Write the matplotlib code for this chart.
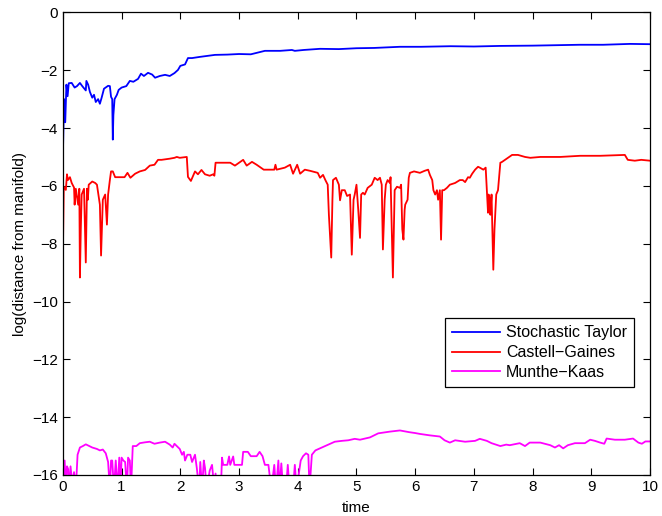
import matplotlib
matplotlib.use('Agg')
import matplotlib.pyplot as plt

plt.rcParams['font.family'] = ['Liberation Sans', 'DejaVu Sans']

# Stochastic Taylor
st_t = [0, 0.02, 0.04, 0.06, 0.08, 0.1, 0.15, 0.2, 0.24, 0.29, 0.33, 0.39, 0.4, 0.43, 0.46,
        0.5, 0.53, 0.56, 0.6, 0.63, 0.66, 0.7, 0.77, 0.8, 0.82, 0.84, 0.85, 0.86, 0.88, 0.92,
        0.95, 1.0, 1.08, 1.14, 1.2, 1.28, 1.33, 1.38, 1.45, 1.52, 1.57, 1.65, 1.74, 1.82, 1.9,
        1.96, 2.0, 2.08, 2.13, 2.2, 2.33, 2.59, 2.8, 3.0, 3.2, 3.44, 3.7, 3.9, 3.95, 4.1, 4.38,
        4.7, 5.0, 5.3, 5.74, 6.1, 6.6, 7.0, 7.44, 8.0, 8.8, 9.2, 9.66, 10.0]
st_y = [-4.92, -3.0, -3.8, -2.5, -2.9, -2.45, -2.44, -2.6, -2.55, -2.44, -2.55, -2.7, -2.37,
        -2.5, -2.75, -2.95, -2.85, -3.1, -3.0, -3.16, -2.95, -2.64, -2.54, -2.55, -2.92, -3.0,
        -4.4, -3.55, -3.0, -2.85, -2.68, -2.6, -2.55, -2.37, -2.4, -2.3, -2.12, -2.2, -2.09,
        -2.15, -2.26, -2.2, -2.16, -2.2, -2.1, -1.99, -1.85, -1.8, -1.58, -1.58, -1.54, -1.47,
        -1.46, -1.44, -1.45, -1.33, -1.33, -1.30, -1.33, -1.3, -1.26, -1.27, -1.24, -1.23,
        -1.19, -1.19, -1.17, -1.18, -1.16, -1.15, -1.12, -1.12, -1.09, -1.1]

# Castell-Gaines
cg_t = [0, 0.015, 0.05, 0.07, 0.085, 0.12, 0.15, 0.19, 0.2, 0.22, 0.26, 0.28, 0.29, 0.305,
        0.32, 0.36, 0.39, 0.41, 0.425, 0.44, 0.5, 0.55, 0.58, 0.63, 0.65, 0.67, 0.68, 0.72,
        0.75, 0.77, 0.8, 0.82, 0.85, 0.89, 0.97, 1.05, 1.1, 1.15, 1.23, 1.31, 1.4, 1.48, 1.56,
        1.62, 1.68, 1.82, 1.9, 1.94, 1.99, 2.11, 2.13, 2.18, 2.25, 2.3, 2.36, 2.42, 2.5, 2.56,
        2.58, 2.6, 2.75, 2.85, 2.93, 3.07, 3.13, 3.22, 3.3, 3.42, 3.52, 3.6, 3.62, 3.64, 3.78,
        3.87, 3.92, 3.99, 4.04, 4.12, 4.21, 4.34, 4.38, 4.43, 4.47, 4.51, 4.53, 4.57, 4.59,
        4.6, 4.65, 4.7, 4.72, 4.75, 4.8, 4.84, 4.89, 4.92, 4.95, 4.97, 5.0, 5.03, 5.06, 5.08,
        5.11, 5.14, 5.19, 5.26, 5.31, 5.36, 5.4, 5.43, 5.45, 5.48, 5.5, 5.53, 5.57, 5.58, 5.62,
        5.65, 5.69, 5.74, 5.76, 5.78, 5.8, 5.82, 5.83, 5.87, 5.89, 5.91, 5.98, 6.08, 6.16,
        6.22, 6.25, 6.29, 6.31, 6.34, 6.37, 6.39, 6.42, 6.44, 6.46, 6.49, 6.54, 6.59, 6.68,
        6.76, 6.81, 6.85, 6.9, 6.93, 6.97, 7.02, 7.07, 7.1, 7.16, 7.2, 7.22, 7.24, 7.25, 7.27,
        7.28, 7.3, 7.33, 7.35, 7.38, 7.41, 7.45, 7.48, 7.53, 7.58, 7.65, 7.75, 7.87, 7.96,
        8.13, 8.47, 8.81, 9.15, 9.57, 9.62, 9.74, 9.85, 10.0]
cg_y = [-8.32, -6.03, -6.14, -5.6, -5.8, -5.7, -5.9, -6.06, -6.65, -6.1, -6.65, -6.1, -9.17,
        -7.5, -6.3, -6.1, -8.65, -6.1, -6.48, -5.96, -5.85, -5.9, -5.96, -6.65, -8.41, -7.1,
        -6.48, -6.3, -7.34, -6.3, -5.8, -5.5, -5.5, -5.7, -5.7, -5.7, -5.55, -5.72, -5.58,
        -5.5, -5.45, -5.3, -5.27, -5.1, -5.1, -5.06, -5.03, -5.0, -5.03, -5.0, -5.69, -5.83,
        -5.5, -5.6, -5.45, -5.6, -5.65, -5.6, -5.65, -5.2, -5.2, -5.2, -5.3, -5.1, -5.3,
        -5.17, -5.27, -5.44, -5.44, -5.44, -5.27, -5.44, -5.37, -5.27, -5.58, -5.27, -5.58,
        -5.44, -5.48, -5.55, -5.72, -5.62, -5.8, -5.96, -7.0, -8.48, -6.5, -5.8, -5.72, -5.96,
        -6.5, -6.15, -6.15, -6.35, -6.3, -8.38, -6.48, -6.3, -5.96, -6.83, -7.8, -6.3, -6.24,
        -6.3, -6.07, -5.96, -5.72, -5.8, -5.72, -5.96, -8.2, -6.48, -5.96, -5.8, -5.9, -5.7,
        -9.17, -6.15, -6.03, -6.07, -5.96, -7.5, -7.86, -6.83, -6.65, -6.48, -5.72, -5.55,
        -5.5, -5.55, -5.48, -5.44, -5.62, -5.8, -6.15, -6.3, -6.15, -6.48, -6.15, -7.86,
        -6.15, -6.15, -6.07, -5.96, -5.9, -5.8, -5.8, -5.87, -5.7, -5.72, -5.58, -5.44, -5.34,
        -5.37, -5.44, -5.37, -6.17, -6.93, -6.3, -6.48, -7.0, -6.3, -8.9, -7.5, -6.3, -6.15,
        -5.2, -5.17, -5.1, -5.03, -4.93, -4.93, -5.0, -5.03, -5.0, -5.0, -4.96, -4.96, -4.93,
        -5.1, -5.13, -5.1, -5.13]

# Munthe-Kaas
mk_t = [0, 0.01, 0.03, 0.05, 0.07, 0.09, 0.11, 0.13, 0.16, 0.19, 0.22, 0.25, 0.29, 0.34,
        0.39, 0.45, 0.5, 0.58, 0.63, 0.68, 0.73, 0.77, 0.8, 0.82, 0.84, 0.87, 0.9, 0.93, 0.96,
        0.98, 1.0, 1.03, 1.06, 1.09, 1.11, 1.14, 1.16, 1.19, 1.25, 1.31, 1.4, 1.48, 1.56,
        1.65, 1.74, 1.82, 1.87, 1.9, 1.95, 1.99, 2.03, 2.06, 2.08, 2.12, 2.17, 2.2, 2.25,
        2.28, 2.32, 2.34, 2.37, 2.4, 2.42, 2.45, 2.5, 2.54, 2.58, 2.6, 2.62, 2.69, 2.71, 2.73,
        2.8, 2.83, 2.85, 2.9, 2.92, 3.05, 3.07, 3.15, 3.2, 3.3, 3.35, 3.4, 3.44, 3.5, 3.55,
        3.6, 3.63, 3.67, 3.69, 3.72, 3.75, 3.8, 3.83, 3.86, 3.92, 3.95, 3.98, 4.05, 4.09,
        4.14, 4.18, 4.2, 4.24, 4.3, 4.41, 4.52, 4.63, 4.75, 4.86, 4.97, 5.06, 5.23, 5.37,
        5.57, 5.74, 5.9, 6.0, 6.08, 6.25, 6.42, 6.5, 6.59, 6.68, 6.85, 7.02, 7.1, 7.22, 7.3,
        7.45, 7.55, 7.61, 7.78, 7.87, 7.95, 8.13, 8.3, 8.38, 8.45, 8.52, 8.6, 8.72, 8.89,
        8.98, 9.06, 9.15, 9.22, 9.26, 9.4, 9.57, 9.71, 9.8, 9.86, 9.92, 10.0]
mk_y = [-15.6, -16.5, -15.5, -16.4, -15.7, -15.8, -16.5, -15.7, -16.3, -15.9, -16.5, -15.3,
        -15.05, -15.0, -14.94, -15.0, -15.05, -15.1, -15.15, -15.12, -15.25, -15.55, -16.5,
        -15.5, -15.5, -16.5, -15.5, -16.5, -15.4, -16.5, -15.4, -15.5, -15.55, -16.5, -15.4,
        -15.5, -16.5, -15.0, -15.0, -14.9, -14.87, -14.85, -14.92, -14.88, -14.85, -14.95,
        -15.05, -14.92, -15.02, -15.1, -15.3, -15.2, -15.5, -15.3, -15.3, -15.55, -15.3,
        -15.75, -16.5, -15.55, -16.5, -15.5, -15.75, -16.5, -15.85, -15.65, -16.5, -15.95,
        -16.5, -16.5, -15.4, -15.65, -15.65, -15.36, -15.65, -15.36, -15.65, -15.65, -15.2,
        -15.2, -15.35, -15.35, -15.2, -15.35, -15.65, -15.65, -16.5, -15.65, -16.5, -15.5,
        -16.5, -15.6, -16.5, -16.5, -15.65, -16.5, -16.5, -15.65, -16.5, -15.5, -15.35,
        -15.25, -15.3, -16.5, -15.3, -15.15, -15.05, -14.95, -14.85, -14.82, -14.8, -14.75,
        -14.78, -14.7, -14.56, -14.5, -14.46, -14.52, -14.55, -14.58, -14.63, -14.67, -14.8,
        -14.88, -14.8, -14.85, -14.82, -14.75, -14.82, -14.9, -15.0, -14.95, -14.97, -14.9,
        -15.0, -14.88, -14.88, -14.97, -15.05, -14.97, -15.08, -14.97, -14.9, -14.9, -14.78,
        -14.82, -14.88, -14.92, -14.74, -14.78, -14.78, -14.74, -14.88, -14.92, -14.84,
        -14.84]

fig = plt.figure(figsize=(6.62, 5.16), dpi=100)
ax = fig.add_axes([0.095, 0.0795, 0.887, 0.8965])

ax.plot(st_t, st_y, color='#0000ff', lw=1.3, label='Stochastic Taylor')
ax.plot(cg_t, cg_y, color='#ff0000', lw=1.3, label='Castell\u2212Gaines')
ax.plot(mk_t, mk_y, color='#ff00ff', lw=1.3, label='Munthe\u2212Kaas')

ax.set_xlim(0, 10)
ax.set_ylim(-16, 0)
ax.set_xticks(range(0, 11))
ax.set_yticks(range(-16, 1, 2))
ax.tick_params(direction='in', length=5, width=0.8, top=True, right=True,
               labelsize=11, colors='black')
for s in ax.spines.values():
    s.set_linewidth(0.9)

ax.set_xlabel('time', fontsize=11, labelpad=5)
ax.set_ylabel('log(distance from manifold)', fontsize=11, labelpad=4)

leg = ax.legend(loc='upper right', bbox_to_anchor=(0.973, 0.339), borderaxespad=0,
                fancybox=False, edgecolor='black', fontsize=11.5, handlelength=3.0,
                labelspacing=0.3, borderpad=0.45, handletextpad=0.4, framealpha=1)
leg.get_frame().set_linewidth(0.9)

fig.savefig('out.png', dpi=100)
